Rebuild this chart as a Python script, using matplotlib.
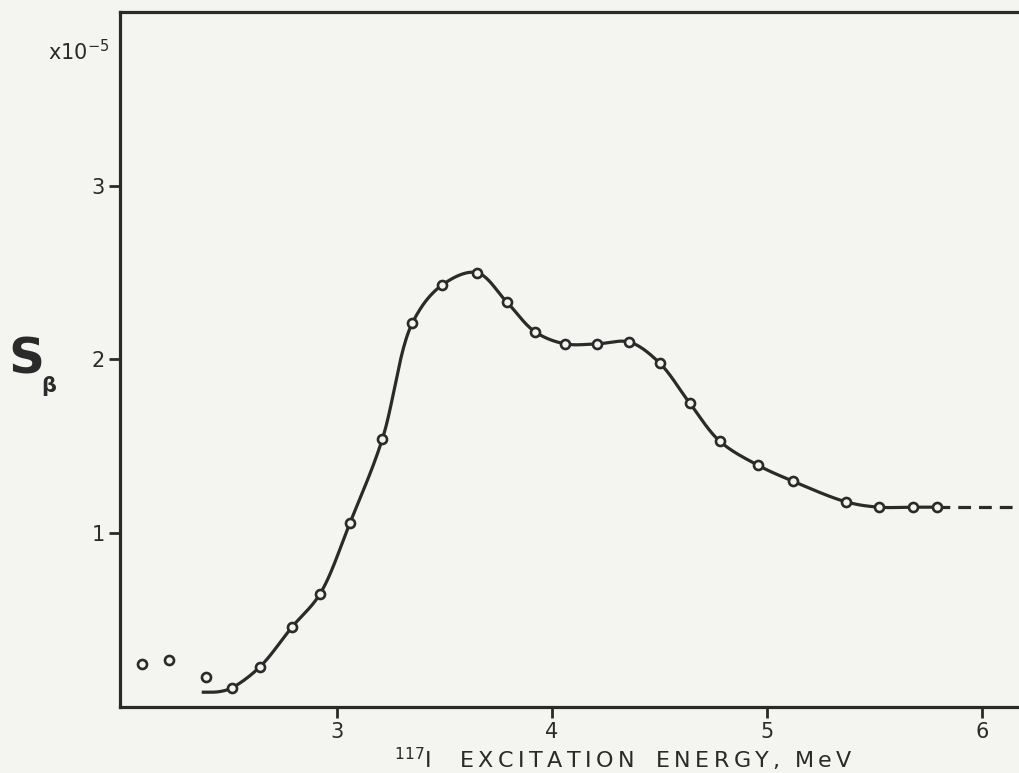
import numpy as np
import matplotlib.pyplot as plt

# Datos (energia en MeV, S_beta en unidades de 1e-5)
energia = [2.09, 2.22, 2.39, 2.51, 2.64, 2.79, 2.92, 3.06, 3.21, 3.35, 3.49, 3.65,
           3.79, 3.92, 4.06, 4.21, 4.36, 4.50, 4.64, 4.78, 4.96, 5.12, 5.37, 5.52,
           5.68, 5.79]
s_beta = [0.25, 0.27, 0.17, 0.11, 0.23, 0.46, 0.65, 1.06, 1.54, 2.21, 2.43, 2.50,
          2.33, 2.16, 2.09, 2.09, 2.10, 1.98, 1.75, 1.53, 1.39, 1.30, 1.18, 1.15,
          1.15, 1.15]

# Curva dibujada a mano: arranca plana antes de los puntos
curva_x = [2.37, 2.45] + energia[3:]
curva_y = [0.085, 0.088] + s_beta[3:]

# Extrapolacion a trazos
trazos_x = [5.79, 6.20]
trazos_y = [1.15, 1.15]

xticks = [3, 4, 5, 6]
yticks = [1, 2, 3]

fondo = '#f4f4f1'
tinta = '#2a2a2a'


# Catmull-Rom centripeta para suavizar la curva (solo para dibujar)
def suavizar(xs, ys, n=24, alfa=0.5):
    # escala aproximada de pantalla para que la parametrizacion sea razonable
    p = np.column_stack([np.array(xs) * 215.0, np.array(ys) * 173.5])
    p = np.vstack([p[0] - (p[1] - p[0]), p, p[-1] + (p[-1] - p[-2])])
    salida = []
    for i in range(1, len(p) - 2):
        p0, p1, p2, p3 = p[i - 1], p[i], p[i + 1], p[i + 2]
        t0 = 0.0
        t1 = t0 + np.linalg.norm(p1 - p0) ** alfa
        t2 = t1 + np.linalg.norm(p2 - p1) ** alfa
        t3 = t2 + np.linalg.norm(p3 - p2) ** alfa
        t = np.linspace(t1, t2, n, endpoint=False)[:, None]
        a1 = (t1 - t) / (t1 - t0) * p0 + (t - t0) / (t1 - t0) * p1
        a2 = (t2 - t) / (t2 - t1) * p1 + (t - t1) / (t2 - t1) * p2
        a3 = (t3 - t) / (t3 - t2) * p2 + (t - t2) / (t3 - t2) * p3
        b1 = (t2 - t) / (t2 - t0) * a1 + (t - t0) / (t2 - t0) * a2
        b2 = (t3 - t) / (t3 - t1) * a2 + (t - t1) / (t3 - t1) * a3
        salida.append((t2 - t) / (t2 - t1) * b1 + (t - t1) / (t2 - t1) * b2)
    salida.append(p[-2][None, :])
    s = np.vstack(salida)
    return s[:, 0] / 215.0, s[:, 1] / 173.5


def espaciar(palabra):
    return '\u2009'.join(palabra)


plt.rcParams['font.family'] = ['DejaVu Sans']

fig = plt.figure(figsize=(10.19, 7.73), dpi=100, facecolor=fondo)
ax = fig.add_axes([0.1178, 0.0854, 0.8822 + 0.01, 0.8991])
ax.set_facecolor(fondo)

sx, sy = suavizar(curva_x, curva_y)
ax.plot(sx, sy, color=tinta, lw=2.3, solid_capstyle='butt')
ax.plot(trazos_x, trazos_y, color=tinta, lw=2.3, dashes=(4, 2.5))
ax.plot(energia, s_beta, 'o', ms=6.5, mfc=fondo, mec=tinta, mew=1.9, zorder=3)

ax.set_xlim(1.99, 6.22)
ax.set_ylim(0, 4.0)
ax.set_xticks(xticks)
ax.set_yticks(yticks)
ax.tick_params(direction='out', length=8, width=2, colors=tinta, labelsize=15, pad=3)

for lado in ['left', 'bottom', 'top']:
    ax.spines[lado].set_linewidth(2.3)
    ax.spines[lado].set_color(tinta)
ax.spines['right'].set_visible(False)

ax.text(-0.012, 3.77, r'x10$^{-5}$', transform=ax.get_yaxis_transform(),
        ha='right', va='center', fontsize=15, color=tinta)

fig.text(0.008, 0.535, 'S', fontsize=36, fontweight='bold', color=tinta,
         ha='left', va='center')
fig.text(0.040, 0.500, 'β', fontsize=15, fontweight='bold', color=tinta,
         ha='left', va='center')

etiqueta = r'$^{117}$I    ' + espaciar('EXCITATION') + '   ' + espaciar('ENERGY,') \
    + '  ' + espaciar('MeV')
fig.text(0.612, 0.018, etiqueta, fontsize=16, color=tinta, ha='center', va='center')

fig.savefig('out.png', dpi=100, facecolor=fondo)
